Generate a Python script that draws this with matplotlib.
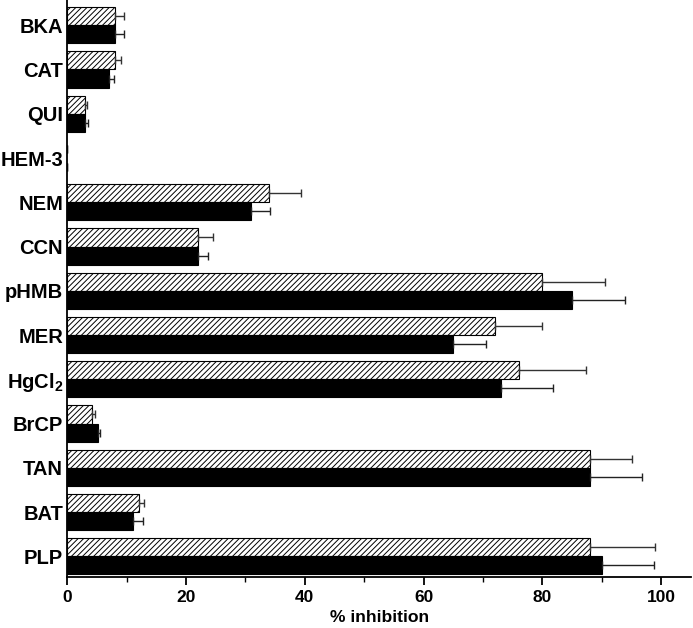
import numpy as np
import matplotlib
matplotlib.use("Agg")
import matplotlib.pyplot as plt
from matplotlib.ticker import MultipleLocator

# ===================== data =====================
labels = ["PLP", "BAT", "TAN", "BrCP", "HgCl$_2$", "MER", "pHMB",
          "CCN", "NEM", "HEM-3", "QUI", "CAT", "BKA"]

# hatched bars (upper bar in each pair)
hatched_val = [88, 12, 88, 4.1, 76, 72, 80, 22, 34, 0, 3.0, 8, 8]
hatched_err = [11, 1.0, 7, 0.6, 11.4, 7.9, 10.6, 2.6, 5.4, 0, 0.4, 1.1, 1.5]

# black bars (lower bar in each pair)
black_val = [90, 11, 88, 5.1, 73, 65, 85, 22, 31, 0, 3.0, 7.0, 8]
black_err = [8.8, 1.7, 8.8, 0.5, 8.7, 5.5, 8.9, 1.7, 3.1, 0, 0.5, 0.8, 1.5]

# ===================== plot =====================
plt.rcParams["font.family"] = ["Liberation Sans", "DejaVu Sans"]
plt.rcParams["font.weight"] = "bold"
plt.rcParams["mathtext.fontset"] = "custom"
plt.rcParams["mathtext.rm"] = "Liberation Sans:bold"
plt.rcParams["mathtext.bf"] = "Liberation Sans:bold"
plt.rcParams["mathtext.default"] = "bf"
plt.rcParams["hatch.linewidth"] = 0.7

fig = plt.figure(figsize=(6.93, 6.28), dpi=100)
ax = fig.add_axes([0.097, 0.081, 0.9, 0.919])

y = np.arange(len(labels))
h = 0.41

# 0值不画边框（HEM-3）
lw_h = [0.8 if v > 0 else 0 for v in hatched_val]
lw_b = [0.8 if v > 0 else 0 for v in black_val]

ax.barh(y + h / 2, hatched_val, height=h, color="white", edgecolor="black",
        hatch="//////", linewidth=lw_h)
ax.barh(y - h / 2, black_val, height=h, color="black", edgecolor="black",
        linewidth=lw_b)

# 单侧误差棒
ax.errorbar(hatched_val, y + h / 2,
            xerr=[np.zeros(len(labels)), hatched_err],
            fmt="none", ecolor="#333333", elinewidth=1.0, capsize=3.2, capthick=1.0)
ax.errorbar(black_val, y - h / 2,
            xerr=[np.zeros(len(labels)), black_err],
            fmt="none", ecolor="#222222", elinewidth=1.0, capsize=3.2, capthick=1.0)

ax.set_xlim(0, 105)
ax.set_ylim(-0.47, 12.57)
ax.set_yticks(y)
ax.set_yticklabels(labels, fontsize=14.5, fontweight="bold")
ax.tick_params(axis="y", length=0, pad=3)

ax.xaxis.set_major_locator(MultipleLocator(20))
ax.xaxis.set_minor_locator(MultipleLocator(10))
ax.tick_params(axis="x", which="major", length=6, width=1.3, labelsize=12.5, pad=3)
ax.tick_params(axis="x", which="minor", length=3.5, width=1.0)
for t in ax.get_xticklabels():
    t.set_fontweight("bold")

ax.set_xlabel("% inhibition", fontsize=12.6, fontweight="bold", labelpad=4)

ax.spines["top"].set_visible(False)
ax.spines["right"].set_visible(False)
ax.spines["left"].set_linewidth(1.3)
ax.spines["bottom"].set_linewidth(1.3)

plt.savefig("out.png", dpi=100)
